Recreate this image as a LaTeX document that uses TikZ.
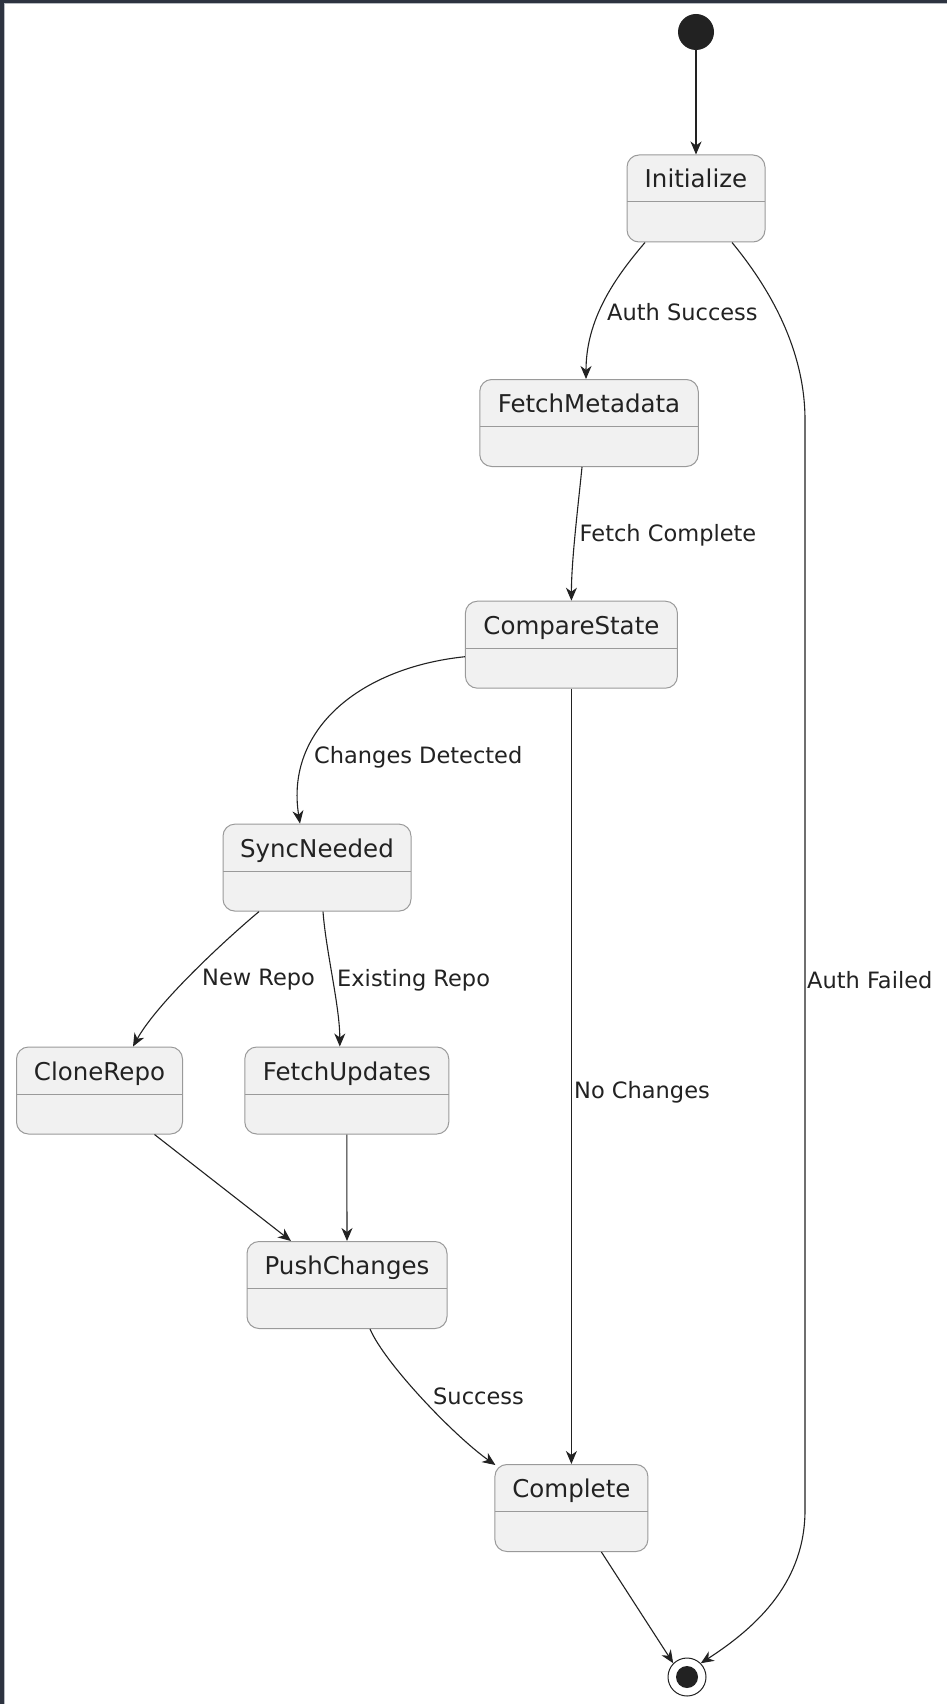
\documentclass[tikz,border=0pt]{standalone}
\usepackage{fontspec}
\setmainfont{DejaVu Sans}
\usepackage{tikz}
\usetikzlibrary{arrows.meta}

\definecolor{framedark}{HTML}{2D3340}
\definecolor{framegray}{HTML}{B8BCC2}
\definecolor{statefill}{HTML}{F1F1F1}
\definecolor{stateline}{HTML}{9A9A9A}
\definecolor{ink}{HTML}{222222}

\begin{document}
\begin{tikzpicture}[x=1pt, y=-1pt,
    state/.style={draw=stateline, fill=statefill, line width=1pt, rounded corners=12pt,
        minimum height=87pt, inner ysep=8pt, text height=25pt, text depth=46pt,
        text=ink, font=\fontsize{24.5}{29}\selectfont,
        path picture={\draw[stateline, line width=1pt]
            ([yshift=-47pt]path picture bounding box.north west) --
            ([yshift=-47pt]path picture bounding box.north east);}},
    trans/.style={draw=ink, line width=1.1pt, -{Stealth[length=13pt, width=11pt, inset=4pt]}},
    lbl/.style={anchor=west, inner sep=0pt, text=ink, font=\fontsize{22.5}{27}\selectfont}]

    % Frame
    \useasboundingbox (0,0) rectangle (947,1704);
    \fill[white] (0,0) rectangle (947,1704);
    \fill[framedark] (0,0) rectangle (947,3.5);
    \fill[framedark] (0,0) rectangle (3.5,1704);
    \draw[framegray, line width=1pt] (4,1704) -- (4,4) -- (947,4);

    % Start and end states
    \node[circle, fill=ink, minimum size=36pt, inner sep=0pt] (start) at (696,32) {};
    \node[circle, draw=ink, line width=1pt, minimum size=38pt, inner sep=0pt] (end) at (687,1677) {};
    \node[circle, fill=ink, minimum size=22pt, inner sep=0pt] (endDot) at (end) {};

    % States
    \node[state, minimum width=138pt] (init) at (696,198.5) {Initialize};
    \node[state, minimum width=218.5pt] (fetch) at (589,423) {FetchMetadata};
    \node[state, minimum width=212pt] (compare) at (571.4,644.7) {CompareState};
    \node[state, minimum width=188pt] (sync) at (317,867.6) {SyncNeeded};
    \node[state, minimum width=166pt] (clone) at (99.5,1090.5) {CloneRepo};
    \node[state, minimum width=204pt] (fupd) at (346.8,1090.5) {FetchUpdates};
    \node[state, minimum width=200pt] (push) at (347,1285) {PushChanges};
    \node[state, minimum width=153pt] (complete) at (571.4,1508) {Complete};

    % Transitions
    \draw[trans] (start) -- (init.north);
    \draw[trans] ([xshift=-51pt]init.south) .. controls +(-30,35) and +(0,-60) .. ([xshift=-3pt]fetch.north);
    \draw[trans] ([xshift=36pt]init.south) .. controls +(38,46) and +(0,-70) .. (805,420)
        -- (805,1510) .. controls (805,1580) and (760,1625) .. (end.45);
    \draw[trans] ([xshift=-7pt]fetch.south) .. controls +(-4,40) and +(0,-40) .. (compare.north);
    \draw[trans] ([yshift=-12pt]compare.west) .. controls +(-105,11) and +(-15,-94) .. ([xshift=-17pt]sync.north);
    \draw[trans] (compare.south) -- (complete.north);
    \draw[trans] ([xshift=-58pt]sync.south) .. controls +(-30,25) and +(25,-45) .. ([xshift=33.5pt]clone.north);
    \draw[trans] ([xshift=6pt]sync.south) .. controls +(3,40) and +(0,-40) .. ([xshift=-7pt]fupd.north);
    \draw[trans] ([xshift=55pt]clone.south) -- ([xshift=-56pt]push.north);
    \draw[trans] (fupd.south) -- (push.north);
    \draw[trans] ([xshift=23pt]push.south) .. controls +(15,35) and +(-40,-28) .. ([xshift=1pt,yshift=-1pt]complete.north west);
    \draw[trans] ([xshift=30pt]complete.south) -- (end.135);

    % Labels
    \node[lbl] (lAuthOk) at (607,312) {Auth Success};
    \node[lbl] (lFetchDone) at (579.5,535) {Fetch Complete};
    \node[lbl] (lChanges) at (314,757) {Changes Detected};
    \node[lbl] (lNewRepo) at (202,980) {New Repo};
    \node[lbl] (lExisting) at (337,980) {Existing Repo};
    \node[lbl] (lNoChanges) at (574,1092) {No Changes};
    \node[lbl] (lAuthFail) at (807,980) {Auth Failed};
    \node[lbl] (lSuccess) at (433,1396) {Success};
\end{tikzpicture}
\end{document}
